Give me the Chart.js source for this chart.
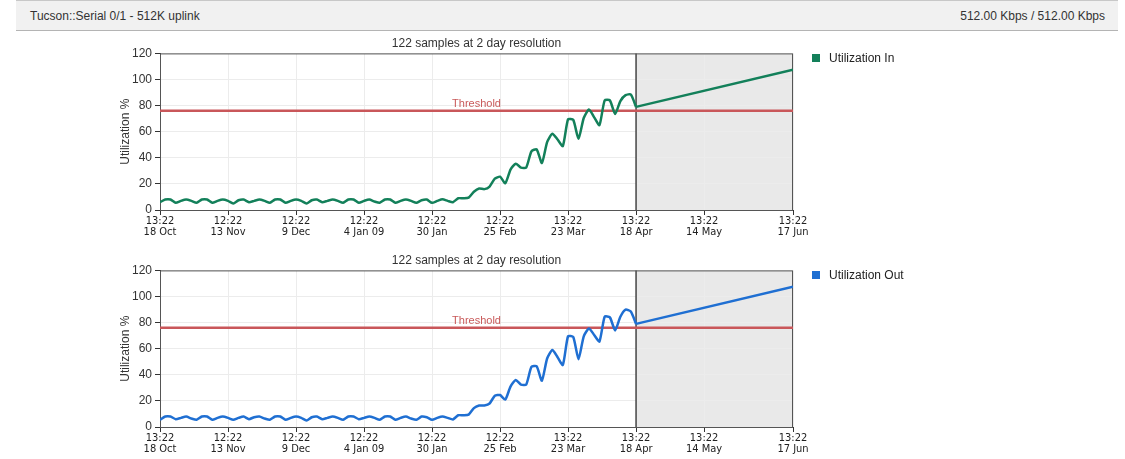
<!DOCTYPE html>
<html>
<head>
<meta charset="utf-8">
<script src="https://cdn.jsdelivr.net/npm/chart.js@4/dist/chart.umd.min.js"></script>
<style>
  body { margin: 0; background: #fff; font-family: "Liberation Sans", Arial, sans-serif; }
  #page { position: relative; width: 1125px; height: 459px; overflow: hidden; }
  .header {
    position: absolute; left: 16px; top: 0; width: 1102px; height: 29px;
    background: #f1f1f1; border-top: 1px solid #c8c8c8; border-bottom: 1px solid #b4b4b4;
    font-size: 12px; color: #333; line-height: 30px;
  }
  .header .l { position: absolute; left: 14px; }
  .header .r { position: absolute; right: 13px; }
  canvas { position: absolute; left: 0; }
  .legend { position: absolute; left: 812px; font-size: 12px; color: #222; line-height: 14px; }
  .legend span.box { display: inline-block; width: 8px; height: 8px; margin-right: 9px; vertical-align: 0px; }
</style>
</head>
<body>
<div id="page">
  <div class="header"><span class="l">Tucson::Serial 0/1 - 512K uplink</span><span class="r">512.00 Kbps / 512.00 Kbps</span></div>
  <canvas id="chartIn" width="1125" height="212" style="top:30px"></canvas>
  <canvas id="chartOut" width="1125" height="212" style="top:247px"></canvas>
  <div class="legend" id="legendIn" style="top:51px"></div>
  <div class="legend" id="legendOut" style="top:268px"></div>
</div>
<script>
// days since 18 Oct 2008, 13:22
const tickDays = [0, 26, 52, 78, 104, 130, 156, 182, 208, 242];
const tickTimes = ['13:22', '12:22', '12:22', '12:22', '12:22', '12:22', '13:22', '13:22', '13:22', '13:22'];
const tickDates = ['18 Oct', '13 Nov', '9 Dec', '4 Jan 09', '30 Jan', '25 Feb', '23 Mar', '18 Apr', '14 May', '17 Jun'];

const sampleStep = 2; // 2 day resolution
const threshold = 76;
const forecastDays = [182, 242];

const utilIn = [
  6, 8, 8, 5.5, 7, 8, 7, 5.5, 8, 8, 5.5, 7, 8,
  7, 5, 7.5, 8, 6, 7, 8, 7, 5.5, 8, 8, 5.5, 7,
  8, 7, 5, 7.5, 8, 6, 7, 8, 7, 5.5, 8, 8, 5.5,
  7, 8, 6.5, 5.5, 8, 8, 5.5, 7, 8, 7, 5.5, 7.5, 8,
  5.5, 7, 8.2, 7, 6, 9, 9, 9.5, 14, 16.5, 16, 18, 24, 25.5, 20.5, 31, 35.5, 32.5, 32.5, 45,
  46.5, 36, 52, 58.5, 54, 49, 69.5, 69, 54.5, 70.5, 77, 71, 65, 84, 84, 73.5, 83.5, 88, 88.5, 79
];
const forecastIn = [79, 107.5];

const utilOut = [
  5.5, 8, 8, 6, 7, 8, 6.5, 5.5, 8, 8, 5.5, 7, 8,
  7, 5.5, 7, 8, 6, 7.5, 8, 6.5, 5.5, 8, 8, 5.5, 7,
  8, 7, 5, 7.5, 8, 6, 7, 8, 7, 5.5, 8, 8, 6,
  7, 8, 7, 5.5, 8, 8, 5.5, 7, 8, 6.5, 5.5, 8, 7.5,
  5.5, 7, 8, 7, 5.8, 9, 9, 9.5, 14.5, 16.5, 16.5, 18, 24, 24.5, 21, 31, 36, 32.5, 32.5, 46,
  46.5, 35.5, 52.5, 59, 53.5, 47.5, 69.5, 69, 52, 69.5, 75.5, 70.5, 65.5, 84.5, 84, 74, 84.5, 90, 88.5, 79
];
const forecastOut = [79, 107.5];

const FONT = "'Liberation Sans', Arial, sans-serif";
const NARROW = "'Liberation Sans Narrow', 'Arial Narrow', 'DejaVu Sans Condensed', sans-serif";

const forecastPlugin = {
  id: 'forecast',
  beforeDraw(chart) {
    const { ctx, chartArea, scales } = chart;
    const x0 = scales.x.getPixelForValue(forecastDays[0]);
    ctx.save();
    ctx.fillStyle = '#e9e9e9';
    ctx.fillRect(x0, chartArea.top, chartArea.right - x0, chartArea.bottom - chartArea.top);
    ctx.restore();
  },
  beforeDatasetsDraw(chart) {
    const { ctx, chartArea, scales } = chart;
    const x0 = scales.x.getPixelForValue(forecastDays[0]);
    ctx.save();
    ctx.strokeStyle = '#444';
    ctx.lineWidth = 1.5;
    ctx.beginPath();
    ctx.moveTo(x0, chartArea.top);
    ctx.lineTo(x0, chartArea.bottom);
    ctx.stroke();
    ctx.strokeStyle = '#555';
    ctx.lineWidth = 1;
    ctx.strokeRect(chartArea.left + 0.5, chartArea.top + 0.5,
      chartArea.right - chartArea.left - 1, chartArea.bottom - chartArea.top);
    ctx.restore();
  },
  afterDatasetsDraw(chart) {
    const { ctx, chartArea, scales } = chart;
    ctx.save();
    ctx.font = '11px ' + FONT;
    ctx.fillStyle = '#c95a5a';
    ctx.textAlign = 'center';
    ctx.textBaseline = 'middle';
    ctx.fillText('Threshold', (chartArea.left + chartArea.right) / 2, scales.y.getPixelForValue(threshold) - 7);
    ctx.restore();
  }
};

function points(values, start, step) {
  return values.map((v, i) => ({ x: start + i * step, y: v }));
}

function makeChart(id, legendId, label, color, history, forecast) {
  new Chart(document.getElementById(id), {
    type: 'line',
    data: {
      datasets: [
        {
          label: label,
          data: points(history, 0, sampleStep),
          borderColor: color,
          borderWidth: 2.5,
          pointRadius: 0,
          tension: 0.2
        },
        {
          label: label + ' forecast',
          data: forecast.map((v, i) => ({ x: forecastDays[i], y: v })),
          borderColor: color,
          borderWidth: 2.5,
          pointRadius: 0,
          tension: 0
        },
        {
          label: 'Threshold',
          data: [{ x: tickDays[0], y: threshold }, { x: tickDays[tickDays.length - 1], y: threshold }],
          borderColor: '#c9575a',
          borderWidth: 2.5,
          pointRadius: 0
        }
      ]
    },
    options: {
      responsive: false,
      animation: false,
      events: [],
      layout: { padding: { left: 115, right: 332, top: 0, bottom: 3 } },
      plugins: {
        legend: { display: false },
        tooltip: { enabled: false },
        title: {
          display: true,
          fullSize: false,
          text: '122 samples at 2 day resolution',
          color: '#333',
          font: { family: FONT, size: 12, weight: 'normal' },
          padding: { top: 6, bottom: 3 }
        }
      },
      scales: {
        x: {
          type: 'linear',
          min: tickDays[0],
          max: tickDays[tickDays.length - 1],
          afterBuildTicks: s => { s.ticks = tickDays.map(v => ({ value: v })); },
          afterFit: s => { s.height = 29; },
          grid: { color: '#ececec', tickColor: '#333', tickLength: 5 },
          border: { color: '#333' },
          ticks: {
            autoSkip: false,
            maxRotation: 0,
            padding: 0,
            color: '#222',
            font: { family: NARROW, size: 11, lineHeight: 1.05 },
            callback: (v, i) => [tickTimes[i], tickDates[i]]
          }
        },
        y: {
          min: 0,
          max: 120,
          afterFit: s => { s.width = 45; },
          grid: { color: '#ececec', tickColor: '#333', tickLength: 5 },
          border: { color: '#333' },
          ticks: { stepSize: 20, padding: 3, color: '#333', font: { family: FONT, size: 12 } },
          title: {
            display: true,
            text: 'Utilization %',
            color: '#333',
            font: { family: FONT, size: 12 },
            padding: { top: 3, bottom: 3 }
          }
        }
      }
    },
    plugins: [forecastPlugin]
  });
  document.getElementById(legendId).innerHTML =
    '<span class="box" style="background:' + color + '"></span>' + label;
}

makeChart('chartIn', 'legendIn', 'Utilization In', '#13805a', utilIn, forecastIn);
makeChart('chartOut', 'legendOut', 'Utilization Out', '#1f6fd2', utilOut, forecastOut);
</script>
</body>
</html>
